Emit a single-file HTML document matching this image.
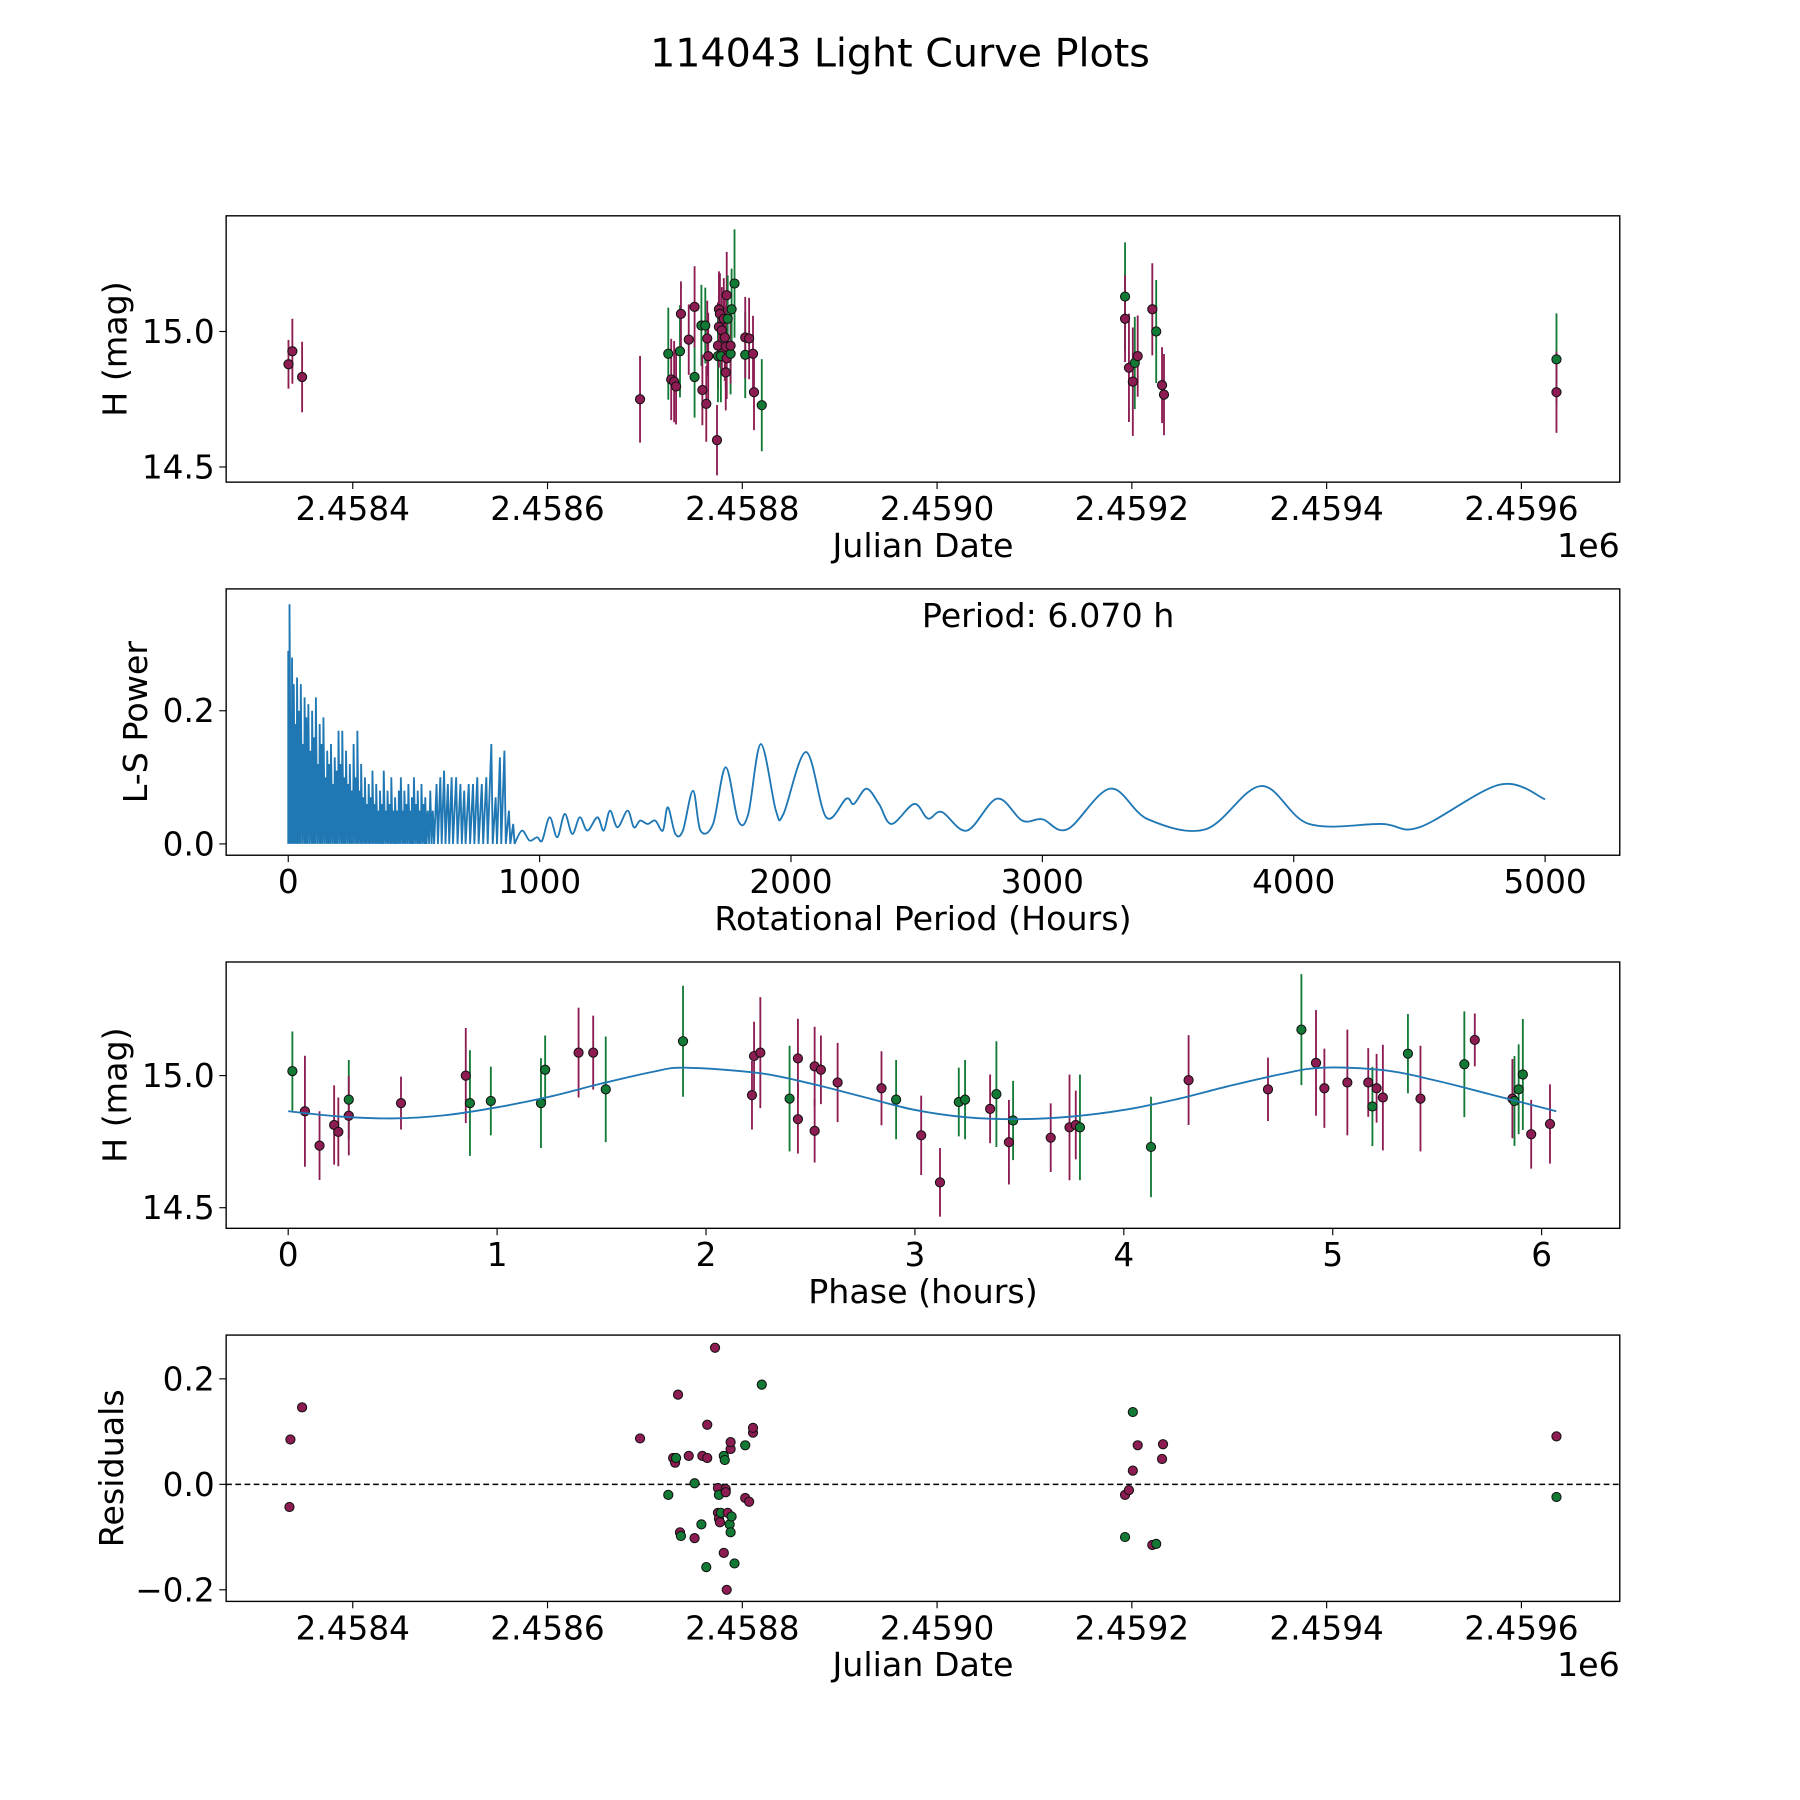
<!DOCTYPE html>
<html><head><meta charset="utf-8"><style>
html,body{margin:0;padding:0;background:#fff;}
svg{display:block;font-family:"DejaVu Sans","Liberation Sans",sans-serif;}
</style></head><body>
<svg id="fig" xmlns="http://www.w3.org/2000/svg" width="1800" height="1800" viewBox="0 0 1568 1568">
<rect width="1568" height="1568" fill="#fff"/>
<text x="784" y="58" font-size="34.5" text-anchor="middle">114043 Light Curve Plots</text>
</svg>
<script>
// ---------- Panel 1: light curve ----------
const lcJD = [2458334,2458338,2458348,2458695,2458724,2458727,2458730,2458732,2458736,2458737,2458745,2458751,2458751,2458758,2458759,2458762,2458763,2458764,2458765,2458774,2458775,2458775,2458776,2458776,2458777,2458778,2458779,2458781,2458782,2458783,2458783,2458784,2458784,2458785,2458788,2458788,2458789,2458792,2458803,2458803,2458807,2458811,2458812,2458820,2459193,2459193,2459197,2459201,2459203,2459206,2459221,2459225,2459231,2459233,2459636,2459636];
const lcMag = [14.879,14.927,14.832,14.750,14.918,14.823,14.815,14.797,14.927,15.065,14.970,14.832,15.091,15.022,14.784,15.022,14.733,14.974,14.909,14.599,14.948,14.909,15.017,15.082,15.065,14.909,15.004,15.047,14.978,14.944,14.849,14.901,15.134,15.047,14.918,14.948,15.082,15.177,14.914,14.978,14.974,14.918,14.776,14.728,15.129,15.047,14.866,14.815,14.884,14.909,15.082,15.000,14.802,14.767,14.897,14.776];
const lcErr = [0.09,0.12,0.13,0.16,0.17,0.15,0.15,0.14,0.17,0.12,0.13,0.15,0.15,0.15,0.13,0.14,0.14,0.14,0.16,0.13,0.16,0.17,0.15,0.14,0.15,0.17,0.16,0.15,0.16,0.15,0.14,0.15,0.16,0.16,0.15,0.14,0.15,0.2,0.16,0.15,0.15,0.14,0.14,0.17,0.2,0.16,0.2,0.2,0.17,0.15,0.17,0.19,0.14,0.15,0.17,0.15];
const lcColor = ["m","m","m","m","g","m","m","m","g","m","m","g","m","g","m","g","m","m","m","m","m","g","m","m","m","g","m","m","m","m","m","m","m","g","g","m","g","g","g","m","m","m","m","g","g","m","m","m","g","m","m","g","m","m","g","m"];
// ---------- Panel 2: periodogram ----------
const spikePeriod = [0,5,10,15,22,28,35,42,50,58,65,72,80,88,95,102,110,118,125,132,140,148,155,162,170,178,185,192,200,208,215,222,230,238,245,252,260,268,275,283,290,298,305,313,320,328,335,343,350,358,365,372,380,388,395,403,410,418,425,433,440,448,455,462,470,478,485,492,500,508,515,522,530,538,545,555,565,575,590,605,620,635,650,668,685,700,718,735,752,770,788,808,825,842,860,878,895];
const spikePower = [0.29,0.36,0.2,0.28,0.24,0.18,0.25,0.2,0.24,0.15,0.22,0.19,0.21,0.14,0.2,0.16,0.22,0.12,0.18,0.15,0.19,0.1,0.14,0.12,0.15,0.09,0.13,0.11,0.17,0.12,0.17,0.1,0.14,0.09,0.12,0.08,0.15,0.1,0.17,0.08,0.12,0.07,0.1,0.06,0.09,0.07,0.11,0.06,0.09,0.05,0.08,0.06,0.11,0.05,0.08,0.06,0.1,0.05,0.07,0.05,0.08,0.1,0.05,0.08,0.06,0.09,0.05,0.07,0.1,0.06,0.08,0.05,0.09,0.06,0.07,0.05,0.08,0.05,0.09,0.1,0.11,0.09,0.1,0.1,0.09,0.08,0.09,0.09,0.1,0.09,0.1,0.15,0.07,0.13,0.14,0.05,0.03];
const smoothPeriod = [900,930,960,990,1010,1040,1070,1100,1130,1160,1190,1230,1255,1280,1310,1350,1375,1400,1430,1460,1490,1510,1540,1570,1610,1640,1690,1740,1790,1830,1880,1940,1970,2060,2140,2220,2250,2300,2350,2400,2490,2545,2600,2700,2820,2920,3000,3100,3270,3420,3650,3870,4060,4350,4500,4820,5000];
const smoothPower = [0.0,0.02,0.005,0.01,0.005,0.04,0.01,0.045,0.015,0.04,0.02,0.04,0.02,0.05,0.025,0.05,0.025,0.035,0.03,0.035,0.02,0.055,0.015,0.02,0.08,0.02,0.03,0.115,0.035,0.045,0.15,0.05,0.045,0.138,0.04,0.068,0.06,0.083,0.06,0.03,0.06,0.038,0.048,0.02,0.068,0.035,0.037,0.022,0.083,0.037,0.022,0.087,0.03,0.03,0.025,0.089,0.067];
// ---------- Panel 3: phased ----------
const phase = [0.02,0.08,0.15,0.22,0.24,0.29,0.29,0.54,0.85,0.87,0.97,1.21,1.23,1.39,1.46,1.52,1.89,2.22,2.23,2.26,2.40,2.44,2.44,2.52,2.52,2.55,2.63,2.84,2.91,3.03,3.12,3.21,3.24,3.36,3.39,3.45,3.47,3.65,3.74,3.77,3.79,4.13,4.31,4.69,4.85,4.92,4.96,5.07,5.17,5.19,5.21,5.24,5.36,5.42,5.63,5.68,5.86,5.87,5.89,5.91,5.95,6.04];
const phMag = [15.017,14.865,14.735,14.813,14.787,14.909,14.848,14.896,15.000,14.896,14.904,14.896,15.022,15.087,15.087,14.948,15.130,14.926,15.074,15.087,14.913,15.065,14.835,14.791,15.035,15.022,14.974,14.952,14.909,14.774,14.596,14.900,14.909,14.874,14.930,14.748,14.830,14.765,14.804,14.813,14.804,14.730,14.983,14.948,15.174,15.048,14.952,14.974,14.974,14.883,14.952,14.917,15.083,14.913,15.043,15.135,14.913,14.904,14.948,15.004,14.778,14.817];
const phErr = [0.15,0.21,0.13,0.15,0.13,0.15,0.15,0.10,0.18,0.2,0.13,0.17,0.13,0.17,0.14,0.2,0.21,0.13,0.13,0.21,0.2,0.15,0.13,0.12,0.15,0.13,0.15,0.14,0.15,0.15,0.13,0.13,0.15,0.13,0.2,0.16,0.15,0.13,0.2,0.13,0.2,0.19,0.17,0.12,0.21,0.2,0.15,0.2,0.13,0.15,0.13,0.2,0.15,0.2,0.2,0.1,0.15,0.17,0.17,0.21,0.13,0.15];
const phColor = ["g","m","m","m","m","g","m","m","m","g","g","g","g","m","m","g","g","m","m","m","g","m","m","m","m","m","m","m","g","m","m","g","g","m","g","m","g","m","m","m","g","g","m","m","g","m","m","m","m","g","m","m","g","m","g","m","m","g","g","g","m","m"];
const modelPhase = [0,0.25,0.5,0.75,1.0,1.25,1.5,1.75,1.9,2.25,2.5,2.75,3.0,3.25,3.5,3.75,4.0,4.25,4.5,4.75,4.95,5.25,5.5,5.75,6.07];
const modelMag = [14.865,14.845,14.838,14.85,14.88,14.92,14.97,15.015,15.03,15.01,14.97,14.92,14.87,14.842,14.835,14.845,14.87,14.91,14.96,15.005,15.03,15.02,14.98,14.93,14.865];
// ---------- Panel 4: residuals ----------
const resJD = [2458335,2458336,2458348,2458695,2458724,2458729,2458731,2458732,2458734,2458736,2458737,2458745,2458751,2458751,2458758,2458759,2458763,2458764,2458764,2458772,2458775,2458775,2458776,2458776,2458777,2458778,2458781,2458781,2458782,2458783,2458783,2458784,2458785,2458787,2458788,2458788,2458788,2458789,2458792,2458803,2458803,2458807,2458811,2458811,2458820,2459193,2459193,2459197,2459201,2459201,2459206,2459221,2459225,2459231,2459232,2459636,2459636];
const resVal = [-0.043,0.085,0.146,0.087,-0.020,0.050,0.041,0.050,0.170,-0.091,-0.098,0.054,0.002,-0.102,-0.076,0.054,-0.157,0.113,0.050,0.259,-0.007,-0.054,-0.020,-0.065,-0.072,-0.054,-0.130,0.054,0.046,-0.009,-0.015,-0.200,-0.054,-0.076,0.067,0.080,-0.091,-0.061,-0.150,0.074,-0.026,-0.033,0.098,0.107,0.189,-0.100,-0.020,-0.011,0.026,0.137,0.074,-0.115,-0.113,0.048,0.076,0.091,-0.024];
const resColor = ["m","m","m","m","g","m","m","g","m","m","g","m","g","m","g","m","g","m","m","m","m","m","g","m","m","g","m","g","g","m","m","m","m","g","m","m","g","g","g","g","m","m","m","m","g","g","m","m","m","g","m","m","g","m","m","m","g"];

const COL = {m:"#8c1c52", g:"#137a35"};
const NS = "http://www.w3.org/2000/svg";
const svg = document.getElementById("fig");
const L = 197, R = 1411;
const TF = 28.5, LF = 29;
function mk(tag, attrs, parent){ const e=document.createElementNS(NS,tag); for(const k in attrs) e.setAttribute(k,attrs[k]); (parent||svg).appendChild(e); return e; }
function lin(d0,d1,r0,r1){ return v => r0 + (v-d0)/(d1-d0)*(r1-r0); }
function frame(top,bot,name){
  const g = mk("g",{});
  
  
  return g;
}
function spine(g,top,bot){
  const r = mk("rect",{x:L,y:top,width:R-L,height:bot-top,fill:"none",stroke:"#000","stroke-width":1.2},g);
  
  
}
function xticks(g,bot,vals,labels,sx){
  vals.forEach((v,i)=>{
    const x=sx(v);
    const t=mk("line",{x1:x,x2:x,y1:bot,y2:bot+6,stroke:"#000","stroke-width":1},g);
    
    
    const tx=mk("text",{x:x,y:bot+33,"font-size":TF,"text-anchor":"middle"},g);
    tx.textContent=labels[i];
    
    
  });
}
function yticks(g,vals,labels,sy){
  vals.forEach((v,i)=>{
    const y=sy(v);
    const t=mk("line",{x1:L-6,x2:L,y1:y,y2:y,stroke:"#000","stroke-width":1},g);
    
    
    const tx=mk("text",{x:L-10,y:y+10,"font-size":TF,"text-anchor":"end"},g);
    tx.textContent=labels[i];
    
    
  });
}
function labels(g,top,bot,xl,yl,ylx,offset){
  const x=mk("text",{x:(L+R)/2,y:bot+65,"font-size":LF,"text-anchor":"middle"},g);
  x.textContent=xl;
  
  
  const cy=(top+bot)/2;
  const y=mk("text",{x:ylx,y:cy,"font-size":LF,"text-anchor":"middle",transform:`rotate(-90 ${ylx} ${cy})`},g);
  y.textContent=yl;
  
  
  if(offset){
    const o=mk("text",{x:R,y:bot+65,"font-size":LF,"text-anchor":"end"},g);
    o.textContent=offset;
    
    
  }
}
function errPoints(g,xs,ys,es,cs,sx,sy){
  xs.forEach((v,i)=>{
    const x=sx(v);
    if(es){
      const l=mk("line",{x1:x,x2:x,y1:sy(ys[i]-es[i]),y2:sy(ys[i]+es[i]),stroke:COL[cs[i]],"stroke-width":1.6},g);
      
      
    }
  });
  xs.forEach((v,i)=>{
    const c=mk("circle",{cx:sx(v),cy:sy(ys[i]),r:4,fill:COL[cs[i]],stroke:"#111","stroke-width":0.9},g);
    
    
  });
}
function smoothPath(pts){
  let d=`M${pts[0][0]},${pts[0][1]}`;
  for(let i=0;i<pts.length-1;i++){
    const p0=pts[Math.max(0,i-1)],p1=pts[i],p2=pts[i+1],p3=pts[Math.min(pts.length-1,i+2)];
    const c1=[p1[0]+(p2[0]-p0[0])/6,p1[1]+(p2[1]-p0[1])/6];
    const c2=[p2[0]-(p3[0]-p1[0])/6,p2[1]-(p3[1]-p1[1])/6];
    d+=` C${c1[0]},${c1[1]} ${c2[0]},${c2[1]} ${p2[0]},${p2[1]}`;
  }
  return d;
}
const jdTicks=[2458400,2458600,2458800,2459000,2459200,2459400,2459600];
const jdLabels=["2.4584","2.4586","2.4588","2.4590","2.4592","2.4594","2.4596"];
const sxJD=lin(2458270,2459701,L,R);

// Panel 1
{
  const top=188,bot=420;
  const g=frame(top,bot,'light-curve-panel');
  const sy=lin(14.444,15.427,bot,top);
  errPoints(g,lcJD,lcMag,lcErr,lcColor,sxJD,sy);
  spine(g,top,bot);
  xticks(g,bot,jdTicks,jdLabels,sxJD);
  yticks(g,[14.5,15.0],["14.5","15.0"],sy);
  labels(g,top,bot,"Julian Date","H (mag)",110,"1e6");
}
// Panel 2
{
  const top=513,bot=745;
  const g=frame(top,bot,'periodogram-panel');
  const sx=lin(-247,5297,L,R), sy=lin(-0.017,0.383,bot,top);
  let d=`M${sx(0)},${sy(0)}`;
  spikePeriod.forEach((p,i)=>{ d+=` L${sx(p)},${sy(spikePower[i])} L${sx(p)+1.2},${sy(0)}`; });
  const sp=mk("path",{d:d,fill:"none",stroke:"#1f77b4","stroke-width":1.6},g);
  
  
  const pts=smoothPeriod.map((p,i)=>[sx(p),sy(smoothPower[i])]);
  const sm=mk("path",{d:smoothPath(pts),fill:"none",stroke:"#1f77b4","stroke-width":1.6},g);
  
  
  spine(g,top,bot);
  xticks(g,bot,[0,1000,2000,3000,4000,5000],["0","1000","2000","3000","4000","5000"],sx);
  yticks(g,[0,0.2],["0.0","0.2"],sy);
  labels(g,top,bot,"Rotational Period (Hours)","L-S Power",128,null);
  const t=mk("text",{x:913,y:546,"font-size":LF,"text-anchor":"middle"},g);
  t.textContent="Period: 6.070 h";
  
  
}
// Panel 3
{
  const top=838,bot=1070;
  const g=frame(top,bot,'phased-panel');
  const sx=lin(-0.297,6.374,L,R), sy=lin(14.422,15.430,bot,top);
  errPoints(g,phase,phMag,phErr,phColor,sx,sy);
  const pts=modelPhase.map((p,i)=>[sx(p),sy(modelMag[i])]);
  const m=mk("path",{d:smoothPath(pts),fill:"none",stroke:"#1f77b4","stroke-width":1.6},g);
  
  
  spine(g,top,bot);
  xticks(g,bot,[0,1,2,3,4,5,6],["0","1","2","3","4","5","6"],sx);
  yticks(g,[14.5,15.0],["14.5","15.0"],sy);
  labels(g,top,bot,"Phase (hours)","H (mag)",110,null);
}
// Panel 4
{
  const top=1163,bot=1395;
  const g=frame(top,bot,'residuals-panel');
  const sy=lin(-0.222,0.283,bot,top);
  const z=mk("line",{x1:L,x2:R,y1:sy(0),y2:sy(0),stroke:"#000","stroke-width":1.3,"stroke-dasharray":"5,3"},g);
  
  
  errPoints(g,resJD,resVal,null,resColor,sxJD,sy);
  spine(g,top,bot);
  xticks(g,bot,jdTicks,jdLabels,sxJD);
  yticks(g,[-0.2,0,0.2],["\u22120.2","0.0","0.2"],sy);
  labels(g,top,bot,"Julian Date","Residuals",107,"1e6");
}
</script>
</body></html>
